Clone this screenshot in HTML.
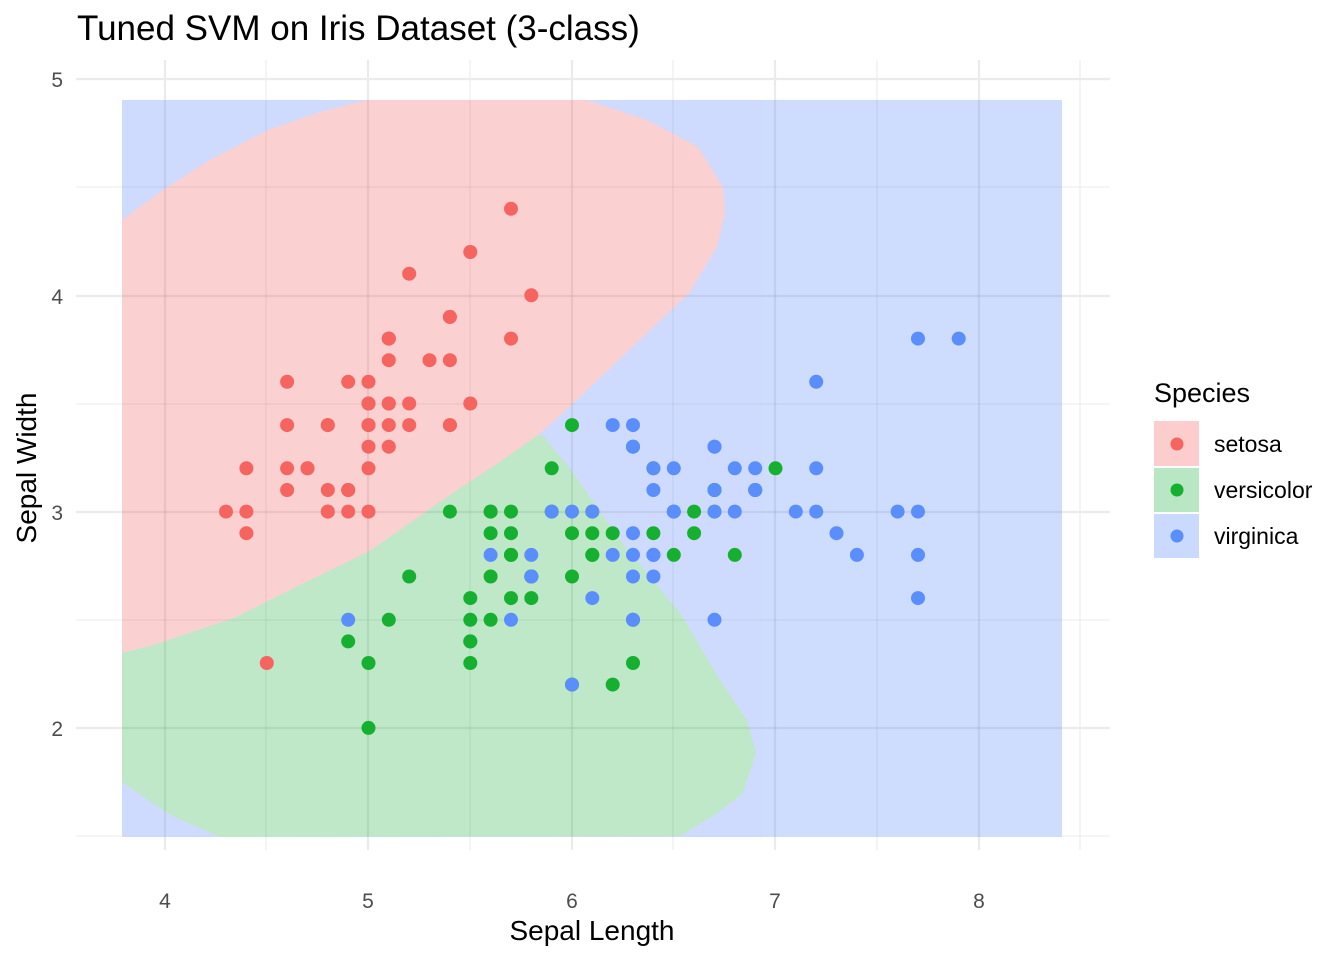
<!DOCTYPE html>
<html><head><meta charset="utf-8"><style>
html,body{margin:0;padding:0;background:#fff;}
svg{display:block;font-family:"Liberation Sans",Arial,sans-serif;}
</style></head><body>
<svg id="s" width="1344" height="960" viewBox="0 0 1344 960" xmlns="http://www.w3.org/2000/svg">
<rect width="1344" height="960" fill="#fff"/>
<g stroke="#EBEBEB">
<g stroke-width="1.1">
<line x1="76" x2="1110" y1="187" y2="187"/><line x1="76" x2="1110" y1="404" y2="404"/><line x1="76" x2="1110" y1="620" y2="620"/><line x1="76" x2="1110" y1="836" y2="836"/>
<line y1="60" y2="850" x1="266" x2="266"/><line y1="60" y2="850" x1="470" x2="470"/><line y1="60" y2="850" x1="673" x2="673"/><line y1="60" y2="850" x1="877" x2="877"/><line y1="60" y2="850" x1="1080" x2="1080"/>
</g>
<g stroke-width="2.2">
<line x1="76" x2="1110" y1="79" y2="79"/><line x1="76" x2="1110" y1="296" y2="296"/><line x1="76" x2="1110" y1="512" y2="512"/><line x1="76" x2="1110" y1="728" y2="728"/>
<line y1="60" y2="850" x1="165" x2="165"/><line y1="60" y2="850" x1="368" x2="368"/><line y1="60" y2="850" x1="572" x2="572"/><line y1="60" y2="850" x1="775" x2="775"/><line y1="60" y2="850" x1="979" x2="979"/>
</g></g>
<g opacity="0.92">
<rect x="122" y="100" width="940" height="737" fill="#CAD9FE"/>
<path fill="#FBCDCD" d="M122,220 L163,190 L210,160 L268,130 L320,112 L367,100 L586,100 L647,120 L698,147 L723,187 L725,213 L717,247 L689,293 L647,333 L605,373 L563,413 L538,435 L500,462 L450,495 L400,530 L368,552 L300,585 L234,618 L154,645 L122,653 Z"/>
<path fill="#B9E7C3" d="M122,653 L154,645 L234,618 L300,585 L368,552 L400,530 L450,495 L500,462 L538,435 L542,435 L569,467 L620,540 L680,613 L720,680 L747,720 L756,753 L743,793 L715,815 L680,836 L220,837 L170,815 L122,782 Z"/>
</g>
<g stroke="#000" stroke-opacity="0.06">
<g stroke-width="1.1">
<line x1="122" x2="1062" y1="187" y2="187"/><line x1="122" x2="1062" y1="404" y2="404"/><line x1="122" x2="1062" y1="620" y2="620"/>
<line y1="100" y2="837" x1="266" x2="266"/><line y1="100" y2="837" x1="470" x2="470"/><line y1="100" y2="837" x1="673" x2="673"/><line y1="100" y2="837" x1="877" x2="877"/>
</g>
<g stroke-width="2.2">
<line x1="122" x2="1062" y1="296" y2="296"/><line x1="122" x2="1062" y1="512" y2="512"/><line x1="122" x2="1062" y1="728" y2="728"/>
<line y1="100" y2="837" x1="165" x2="165"/><line y1="100" y2="837" x1="368" x2="368"/><line y1="100" y2="837" x1="572" x2="572"/><line y1="100" y2="837" x1="775" x2="775"/><line y1="100" y2="837" x1="979" x2="979"/>
</g></g>
<g id="pts"></g>
<g fill="#4D4D4D" font-size="21" text-anchor="end">
<text x="63" y="87">5</text><text x="63" y="304">4</text><text x="63" y="520">3</text><text x="63" y="736">2</text>
</g>
<g fill="#4D4D4D" font-size="21" text-anchor="middle">
<text x="165" y="908">4</text><text x="368" y="908">5</text><text x="572" y="908">6</text><text x="775" y="908">7</text><text x="979" y="908">8</text>
</g>
<text x="592" y="940" font-size="28" text-anchor="middle" fill="#000">Sepal Length</text>
<text transform="translate(36,468) rotate(-90)" font-size="28" text-anchor="middle" fill="#000">Sepal Width</text>
<text x="77" y="40" font-size="35" fill="#000">Tuned SVM on Iris Dataset (3-class)</text>
<text x="1154" y="402" font-size="27" fill="#000">Species</text>
<rect x="1154" y="421" width="45" height="45" fill="#FBCDCD"/>
<rect x="1154" y="468" width="45" height="44" fill="#B9E7C3"/>
<rect x="1154" y="514" width="45" height="44" fill="#CAD9FE"/>
<circle cx="1177" cy="444" r="6.5" fill="#F5645E"/>
<circle cx="1177" cy="490" r="6.5" fill="#16B030"/>
<circle cx="1177" cy="536" r="6.5" fill="#5A8EFD"/>
<g font-size="23" fill="#000">
<text x="1214" y="452">setosa</text><text x="1214" y="498">versicolor</text><text x="1214" y="544">virginica</text>
</g>
</svg>
<script>
var S=[5.1,3.5,4.9,3.0,4.7,3.2,4.6,3.1,5.0,3.6,5.4,3.9,4.6,3.4,5.0,3.4,4.4,2.9,4.9,3.1,5.4,3.7,4.8,3.4,4.8,3.0,4.3,3.0,5.8,4.0,5.7,4.4,5.4,3.9,5.1,3.5,5.7,3.8,5.1,3.8,5.4,3.4,5.1,3.7,4.6,3.6,5.1,3.3,4.8,3.4,5.0,3.0,5.0,3.4,5.2,3.5,5.2,3.4,4.7,3.2,4.8,3.1,5.4,3.4,5.2,4.1,5.5,4.2,4.9,3.1,5.0,3.2,5.5,3.5,4.9,3.6,4.4,3.0,5.1,3.4,5.0,3.5,4.5,2.3,4.4,3.2,5.0,3.5,5.1,3.8,4.8,3.0,5.1,3.8,4.6,3.2,5.3,3.7,5.0,3.3];
var V=[7.0,3.2,6.4,3.2,6.9,3.1,5.5,2.3,6.5,2.8,5.7,2.8,6.3,3.3,4.9,2.4,6.6,2.9,5.2,2.7,5.0,2.0,5.9,3.0,6.0,2.2,6.1,2.9,5.6,2.9,6.7,3.1,5.6,3.0,5.8,2.7,6.2,2.2,5.6,2.5,5.9,3.2,6.1,2.8,6.3,2.5,6.1,2.8,6.4,2.9,6.6,3.0,6.8,2.8,6.7,3.0,6.0,2.9,5.7,2.6,5.5,2.4,5.5,2.4,5.8,2.7,6.0,2.7,5.4,3.0,6.0,3.4,6.7,3.1,6.3,2.3,5.6,3.0,5.5,2.5,5.5,2.6,6.1,3.0,5.8,2.6,5.0,2.3,5.6,2.7,5.7,3.0,5.7,2.9,6.2,2.9,5.1,2.5,5.7,2.8];
var G=[6.3,3.3,5.8,2.7,7.1,3.0,6.3,2.9,6.5,3.0,7.6,3.0,4.9,2.5,7.3,2.9,6.7,2.5,7.2,3.6,6.5,3.2,6.4,2.7,6.8,3.0,5.7,2.5,5.8,2.8,6.4,3.2,6.5,3.0,7.7,3.8,7.7,2.6,6.0,2.2,6.9,3.2,5.6,2.8,7.7,2.8,6.3,2.7,6.7,3.3,7.2,3.2,6.2,2.8,6.1,3.0,6.4,2.8,7.2,3.0,7.4,2.8,7.9,3.8,6.4,2.8,6.3,2.8,6.1,2.6,7.7,3.0,6.3,3.4,6.4,3.1,6.0,3.0,6.9,3.1,6.7,3.1,6.9,3.1,5.8,2.7,6.8,3.2,6.7,3.3,6.7,3.0,6.3,2.5,6.5,3.0,6.2,3.4,5.9,3.0];
var g=document.getElementById('pts'),h='';
function add(a,c){for(var i=0;i<a.length;i+=2){var x=165+(a[i]-4)*203.5,y=79+(5-a[i+1])*216.3;h+='<circle cx="'+x.toFixed(1)+'" cy="'+y.toFixed(1)+'" r="7" fill="'+c+'"/>';}}
add(S,'#F5645E');add(V,'#16B030');add(G,'#5A8EFD');
g.innerHTML=h;
</script>
</body></html>
